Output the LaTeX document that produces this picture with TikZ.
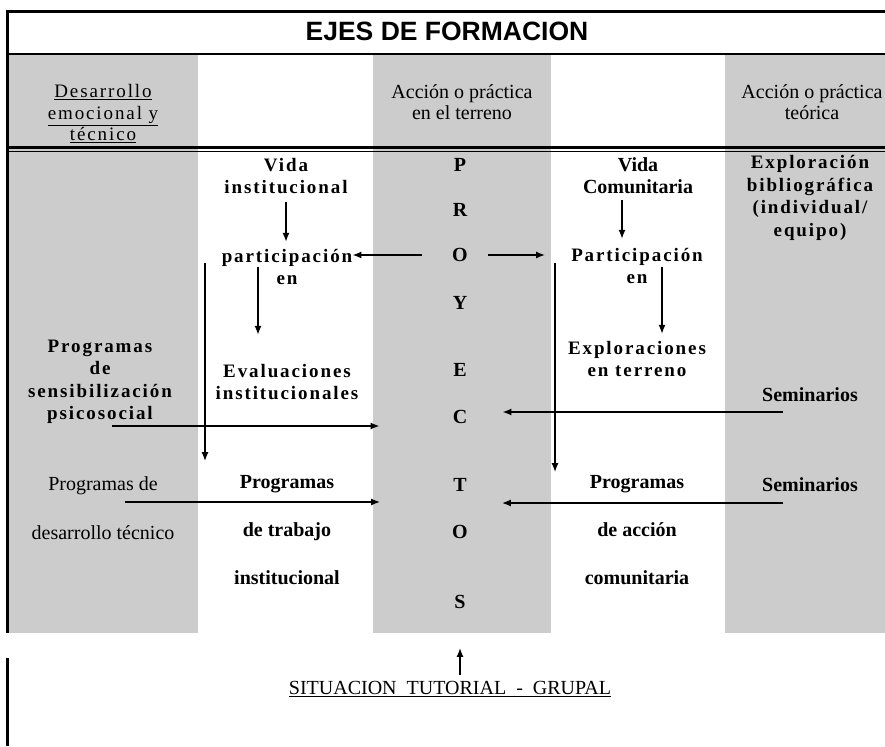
\documentclass[tikz,border=0pt]{standalone}
\usepackage{fontspec}
\setmainfont{Liberation Serif}
\newfontfamily\titlefont{Liberation Sans}
\newfontfamily\spacedfont[LetterSpace=10]{Liberation Serif}
\usetikzlibrary{arrows.meta,positioning}

\begin{document}
\begin{tikzpicture}[x=1pt, y=-1pt,
    every node/.style={inner sep=0pt, align=center, font=\fontsize{20}{22}\selectfont},
    greycol/.style={fill=gray!40, draw=none},
    head/.style={font=\fontsize{20}{21.5}\selectfont},
    wide/.style={font=\spacedfont\bfseries\fontsize{19}{22.5}\selectfont},
    plain/.style={font=\bfseries\fontsize{20}{22}\selectfont},
    letter/.style={font=\bfseries\fontsize{20}{22}\selectfont},
    arr/.style={line width=1.5pt, -{Latex[length=9pt,width=7pt]}},]

\useasboundingbox (0,0) rectangle (885,746);
\fill[white] (0,0) rectangle (885,746);

% grey columns
\fill[greycol] (8,55) rectangle (198,633);
\fill[greycol] (373,55) rectangle (551,633);
\fill[greycol] (725,55) rectangle (885,633);

% frame
\draw[line width=3pt] (5.5,12) -- (885,12);
\draw[line width=3pt] (7,10.5) -- (7,633);
\draw[line width=3pt] (7,658) -- (7,746);
\draw[line width=2pt] (7,54) -- (885,54);
\draw[line width=2.2pt] (7,147.5) -- (885,147.5);
\draw[line width=1pt] (7,151.5) -- (885,151.5);

\node (title) at (447,31) {\titlefont\bfseries\fontsize{26.5}{30}\selectfont EJES DE FORMACION};

% header row
\node[font=\spacedfont\fontsize{19}{21.5}\selectfont] (hdes) at (103,114) {\underline{Desarrollo}\\\underline{emocional y}\\\underline{técnico}};
\node[head] (hter) at (462,102) {Acción o práctica\\en el terreno};
\node[head] (hteo) at (812,102) {Acción o práctica\\teórica};

% left column
\node[wide] (progsens) at (100,382) {Programas\\de\\sensibilización\\psicosocial};
\node (progdes) at (103,508) {Programas de\\[27pt]desarrollo técnico};

% institutional column
\node[wide] (vinst) at (286,176) {Vida\\institucional};
\node[wide] (partinst) at (287,267) {participación\\en};
\node[wide] (evalinst) at (287,382) {Evaluaciones\\institucionales};
\node[plain] (proginst) at (287,530) {Programas\\[26pt]de trabajo\\[26pt]institucional};

% PROYECTOS
\node[letter] (py1) at (460,165) {P};
\node[letter] (py2) at (460,210) {R};
\node[letter] (py3) at (460,255) {O};
\node[letter] (py4) at (460,303) {Y};
\node[letter] (py5) at (460,370) {E};
\node[letter] (py6) at (460,417) {C};
\node[letter] (py7) at (460,485) {T};
\node[letter] (py8) at (460,532) {O};
\node[letter] (py9) at (460,602) {S};

% community column
\node[plain] (vcom) at (638,176) {Vida\\Comunitaria};
\node[wide] (partcom) at (637,266) {Participación\\en};
\node[wide] (explter) at (637,359) {Exploraciones\\en terreno};
\node[plain] (progcom) at (637,530) {Programas\\[26pt]de acción\\[26pt]comunitaria};

% theory column
\node[wide] (explbib) at (810,198) {Exploración\\bibliográfica\\(individual/\\equipo)};
\node[plain] (sem1) at (810,395) {Seminarios};
\node[plain] (sem2) at (810,485) {Seminarios};

\node (sit) at (450,689) {\underline{SITUACION\ \ TUTORIAL\ \ -\ \ GRUPAL}};

% arrows
\coordinate (a1) at (286,202);
\coordinate (a2) at (258,267);
\coordinate (a3) at (205,263);
\coordinate (a4) at (622,200);
\coordinate (a5) at (662,267);
\coordinate (a6) at (555,263);
\coordinate (a9) at (112,426);
\coordinate (a10) at (125,502);
\coordinate (a11) at (783,412);
\coordinate (a12) at (783,503);
\coordinate (a13) at (460,675);

\draw[arr, shorten >=7pt] (a1) -- (a1 |- partinst.north);
\draw[arr, shorten >=29pt] (a2) -- (a2 |- evalinst.north);
\draw[arr, shorten >=14pt] (a3) -- (a3 |- proginst.north);
\draw[arr, shorten >=9pt] (a4) -- (a4 |- partcom.north);
\draw[arr, shorten >=7pt] (a5) -- (a5 |- explter.north);
\draw[arr, shorten >=3pt] (a6) -- (a6 |- progcom.north);
\draw[arr, shorten <=30pt] (py3.west) -- (py3.west -| partinst.east);
\draw[arr, shorten <=20pt, shorten >=26pt] (py3.east) -- (py3.east -| partcom.west);
\draw[arr, shorten >=73pt] (a9) -- (a9 -| py6.west);
\draw[arr, shorten >=73pt] (a10) -- (a10 -| py7.west);
\draw[arr, shorten >=35pt] (a11) -- (a11 -| py6.east);
\draw[arr, shorten >=35pt] (a12) -- (a12 -| py7.east);
\draw[arr, shorten >=39pt] (a13) -- (a13 |- py9.south);

\end{tikzpicture}
\end{document}
